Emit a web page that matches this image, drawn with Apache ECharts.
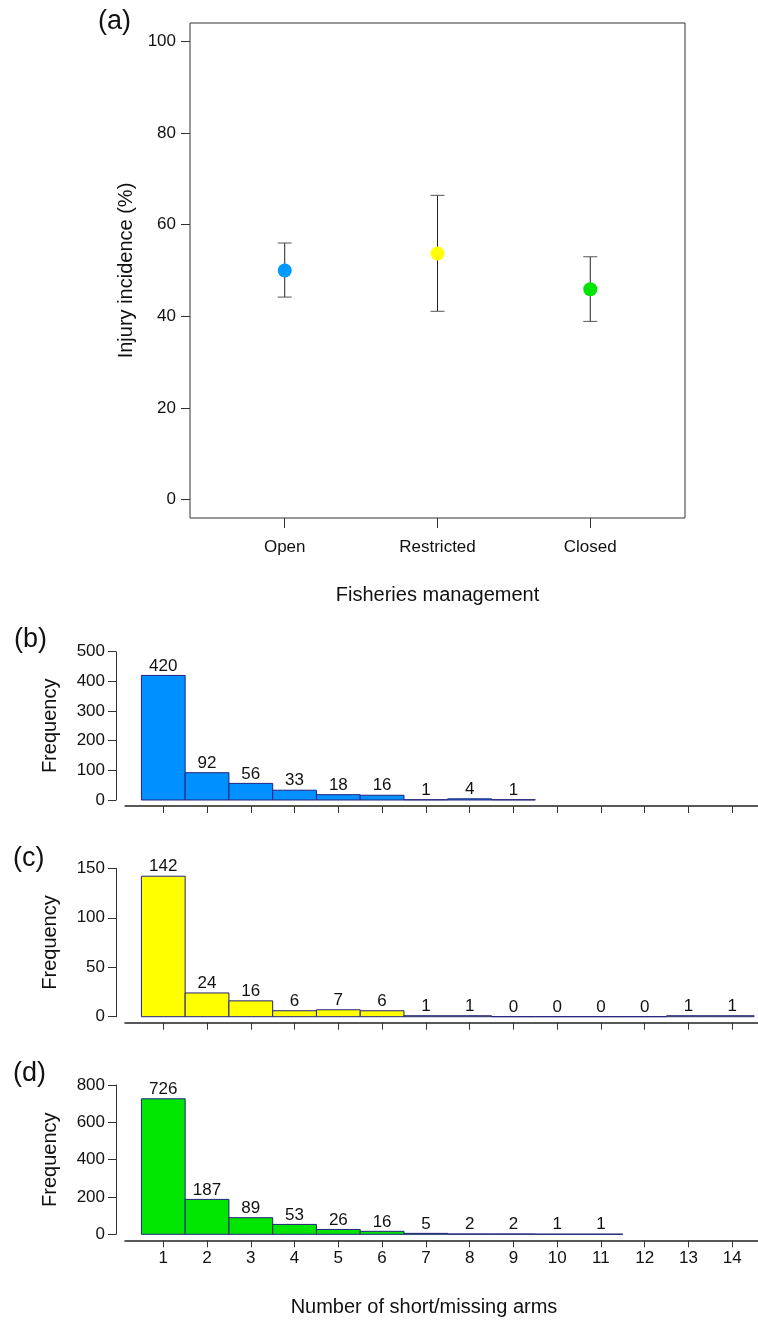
<!DOCTYPE html>
<html><head><meta charset="utf-8">
<script src="https://cdn.jsdelivr.net/npm/echarts@6/dist/echarts.min.js"></script>
<style>html,body{margin:0;padding:0;background:#fff}#c{width:758px;height:1320px}</style>
</head><body><div id="c"></div>
<script>
// ---- data ----
const managementCategories = ['Open', 'Restricted', 'Closed'];
const incidenceMean = [50.0, 53.7, 45.9];
const incidenceLower = [44.2, 41.1, 38.9];
const incidenceUpper = [56.0, 66.4, 53.0];
const incidenceTicks = [0, 20, 40, 60, 80, 100];

const armCounts = [1, 2, 3, 4, 5, 6, 7, 8, 9, 10, 11, 12, 13, 14];
const openFreq = [420, 92, 56, 33, 18, 16, 1, 4, 1];
const restrictedFreq = [142, 24, 16, 6, 7, 6, 1, 1, 0, 0, 0, 0, 1, 1];
const closedFreq = [726, 187, 89, 53, 26, 16, 5, 2, 2, 1, 1];
const openTicks = [0, 100, 200, 300, 400, 500];
const restrictedTicks = [0, 50, 100, 150];
const closedTicks = [0, 200, 400, 600, 800];

// ---- style ----
const FONT = '"Liberation Sans", Arial, sans-serif';
const pointColors = ['#0099FF', '#FFFF00', '#00E600'];
const barColors = ['#0090FF', '#FFFF00', '#00E600'];
const EDGE = '#22227E';
const TXT = '#111';

const chart = echarts.init(document.getElementById('c'), null, {renderer: 'canvas'});

function histSeries(idx, freq, color) {
  return {
    type: 'custom', xAxisIndex: idx, yAxisIndex: idx, clip: false,
    data: freq.map((v, i) => [armCounts[i], v]),
    renderItem(params, api) {
      const x = api.value(0), y = api.value(1);
      const p0 = api.coord([x - 0.5, y]);
      const p1 = api.coord([x + 0.5, 0]);
      return {type: 'group', children: [
        {type: 'rect', shape: {x: p0[0], y: p0[1], width: p1[0] - p0[0], height: p1[1] - p0[1]},
         style: {fill: color, stroke: EDGE, lineWidth: 1}},
        {type: 'text', style: {text: String(y), x: (p0[0] + p1[0]) / 2, y: p0[1] - 1,
         align: 'center', verticalAlign: 'bottom', fontSize: 17, fontFamily: FONT, fill: TXT}}
      ]};
    }
  };
}

function histX(idx, showLabels) {
  return {
    gridIndex: idx, type: 'value', min: 0.125, max: 14.59, offset: 6,
    axisLine: {show: true, onZero: false, lineStyle: {color: '#222', width: 1.5}},
    axisTick: {show: true, customValues: armCounts, length: 7, lineStyle: {color: '#333'}},
    axisLabel: {show: showLabels, customValues: armCounts, margin: 10, fontSize: 17, fontFamily: FONT, color: TXT},
    splitLine: {show: false}
  };
}
function histY(idx, ticks) {
  return {
    gridIndex: idx, type: 'value', min: 0, max: ticks[ticks.length - 1], offset: 9,
    axisLine: {show: true, onZero: false, lineStyle: {color: '#333'}},
    axisTick: {show: true, customValues: ticks, length: 8, lineStyle: {color: '#333'}},
    axisLabel: {customValues: ticks, margin: 11, fontSize: 17, fontFamily: FONT, color: TXT},
    splitLine: {show: false},
    name: 'Frequency', nameLocation: 'middle', nameRotate: 90, nameGap: 56,
    nameTextStyle: {fontSize: 20, fontFamily: FONT, color: TXT}
  };
}

const option = {
  backgroundColor: '#fff',
  animation: false,
  grid: [
    {left: 190, top: 23, width: 495, height: 495, show: true, borderColor: '#333', borderWidth: 1, backgroundColor: 'transparent'},
    {left: 125, top: 651.7, width: 633, height: 148.3},
    {left: 125, top: 868.3, width: 633, height: 148.4},
    {left: 125, top: 1085, width: 633, height: 149.3}
  ],
  xAxis: [
    {gridIndex: 0, type: 'value', min: 0.38, max: 3.62,
     axisLine: {show: false, onZero: false},
     axisTick: {show: true, customValues: [1, 2, 3], length: 10, lineStyle: {color: '#333'}},
     axisLabel: {customValues: [1, 2, 3], formatter: v => managementCategories[Math.round(v) - 1],
       margin: 21, fontSize: 17, fontFamily: FONT, color: TXT},
     splitLine: {show: false},
     name: 'Fisheries management', nameLocation: 'middle', nameGap: 67,
     nameTextStyle: {fontSize: 20, fontFamily: FONT, color: TXT}},
    histX(1, false), histX(2, false), histX(3, true)
  ],
  yAxis: [
    {gridIndex: 0, type: 'value', min: -4, max: 104,
     axisLine: {show: false, onZero: false},
     axisTick: {show: true, customValues: incidenceTicks, length: 9, lineStyle: {color: '#333'}},
     axisLabel: {customValues: incidenceTicks, margin: 14, fontSize: 17, fontFamily: FONT, color: TXT},
     splitLine: {show: false},
     name: 'Injury incidence (%)', nameLocation: 'middle', nameRotate: 90, nameGap: 53,
     nameTextStyle: {fontSize: 20, fontFamily: FONT, color: TXT}},
    histY(1, openTicks), histY(2, restrictedTicks), histY(3, closedTicks)
  ],
  graphic: [
    {type: 'text', left: 98, top: 8, style: {text: '(a)', fontSize: 27, fontFamily: FONT, fill: TXT}},
    {type: 'text', left: 14, top: 626, style: {text: '(b)', fontSize: 27, fontFamily: FONT, fill: TXT}},
    {type: 'text', left: 13, top: 845, style: {text: '(c)', fontSize: 27, fontFamily: FONT, fill: TXT}},
    {type: 'text', left: 13, top: 1060, style: {text: '(d)', fontSize: 27, fontFamily: FONT, fill: TXT}},
    {type: 'text', x: 424, y: 1307, style: {text: 'Number of short/missing arms', fontSize: 20, fontFamily: FONT, fill: TXT, align: 'center', verticalAlign: 'middle'}}
  ],
  series: [
    {type: 'custom', xAxisIndex: 0, yAxisIndex: 0,
     data: managementCategories.map((c, i) => [i + 1, incidenceLower[i], incidenceUpper[i]]),
     renderItem(params, api) {
       const x = api.value(0);
       const pl = api.coord([x, api.value(1)]);
       const ph = api.coord([x, api.value(2)]);
       const cap = 7;
       return {type: 'group', children: [
         {type: 'line', shape: {x1: pl[0], y1: pl[1], x2: ph[0], y2: ph[1]}, style: {stroke: '#222', lineWidth: 1}},
         {type: 'line', shape: {x1: pl[0] - cap, y1: pl[1], x2: pl[0] + cap, y2: pl[1]}, style: {stroke: '#555', lineWidth: 1}},
         {type: 'line', shape: {x1: ph[0] - cap, y1: ph[1], x2: ph[0] + cap, y2: ph[1]}, style: {stroke: '#555', lineWidth: 1}}
       ]};
     }},
    {type: 'scatter', xAxisIndex: 0, yAxisIndex: 0, symbol: 'circle', symbolSize: 14,
     data: managementCategories.map((c, i) => ({value: [i + 1, incidenceMean[i]], itemStyle: {color: pointColors[i], opacity: 1}}))},
    histSeries(1, openFreq, barColors[0]),
    histSeries(2, restrictedFreq, barColors[1]),
    histSeries(3, closedFreq, barColors[2])
  ]
};
chart.setOption(option);
</script></body></html>
